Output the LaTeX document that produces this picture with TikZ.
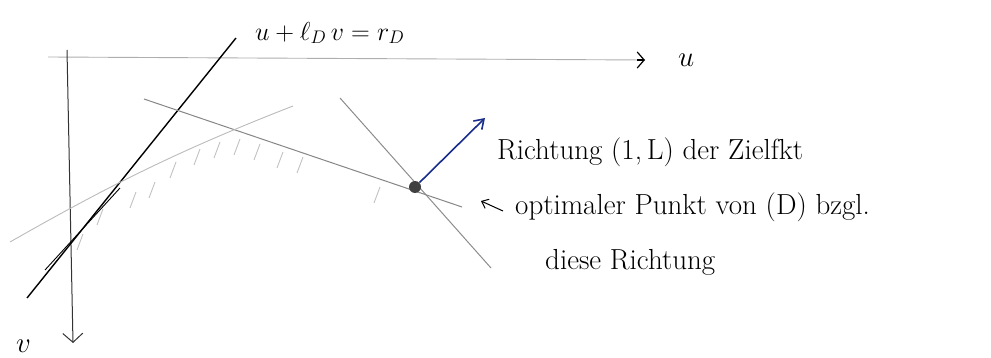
\RequirePackage{fix-cm}
\documentclass[tikz,border=0pt]{standalone}
\usepackage{amsmath,amssymb}
\usepackage{tikz}
\usetikzlibrary{arrows.meta,calc}
\definecolor{sketchblue}{RGB}{25,45,140}
\definecolor{sketchgray}{RGB}{120,120,120}
\tikzset{
  lbl/.style={font=\fontsize{29}{34}\selectfont, anchor=west, inner sep=0pt},
  faint/.style={sketchgray!60, line width=0.9pt},
  hatch/.style={sketchgray!45, line width=0.9pt}
}

\begin{document}
\begin{tikzpicture}[x=1pt, y=-1pt]
  \useasboundingbox (0,0) rectangle (991,358);

  % === AXES ===
  \coordinate (u0) at (48,57);
  \coordinate (u1) at (645,60);
  \coordinate (v0) at (67,50);
  \coordinate (v1) at (73,343);
  \draw[faint] (u0) -- (u1);
  \draw[line width=1.2pt, -{Straight Barb[length=7pt,width=16pt]}]
    ($(u1)+(-8,0)$) -- (u1);
  \node[lbl] (ulbl) at (678,60) {$u$};
  \draw[line width=1pt, black!80,
    -{Straight Barb[length=9pt,width=20pt]}] (v0) -- (v1);
  \node[lbl] (vlbl) at (16,346) {$v$};

  % === CONSTRAINT LINES ===
  % black line u + l_D v = r_D
  \coordinate (a0) at (236,38);
  \coordinate (a1) at (27,298);
  \draw[line width=1.4pt] (a0) -- (a1);
  \draw[line width=0.9pt] (120,188) -- (45,270);
  \node[lbl, font=\fontsize{26}{30}\selectfont] (alab) at (255,33)
    {$u + \ell_D\, v = r_D$};
  % gray lines
  \coordinate (b0) at (144,99);
  \coordinate (b1) at (462,207);
  \draw[sketchgray!90, line width=1pt] (b0) -- (b1);
  \coordinate (c0) at (293,106);
  \coordinate (c1) at (10,242);
  \draw[sketchgray!50, line width=0.9pt] (c0) .. controls (180,150) and (110,185) .. (c1);
  \coordinate (d0) at (340,98);
  \coordinate (d1) at (491,268);
  \draw[sketchgray!85, line width=1pt] (d0) -- (d1);

  % === FEASIBLE REGION (hatched) ===
  \foreach \x/\y in {80/242, 100/217, 133/200, 152/190, 173/170, 197/157,
                     217/150, 237/147, 257/152, 280/160, 300/165, 377/195}
    \draw[hatch] (\x-3,\y+8) -- (\x+3,\y-8);

  % === OPTIMAL POINT ===
  \node[circle, fill=black!75, inner sep=0pt, minimum size=12pt] (opt) at (415,187) {};
  \coordinate (dir) at (485,118);
  \draw[sketchblue, line width=1.6pt, -{Straight Barb[length=9pt,width=12pt]}]
    (opt) -- (dir);

  % === LABELS ===
  \node[lbl] (rlab) at (497,152) {Richtung (1,\,L) der Zielfkt};
  \node[lbl] (olab) at (515,207) {optimaler Punkt von (D) bzgl.};
  \node[lbl] (olab2) at (545,262) {diese Richtung};
  \draw[line width=1pt, -{Straight Barb[length=6pt,width=10pt]}]
    ($(olab.west)+(-12,4)$) -- ($(olab.west)+(-34,-6)$);

\end{tikzpicture}
\end{document}
